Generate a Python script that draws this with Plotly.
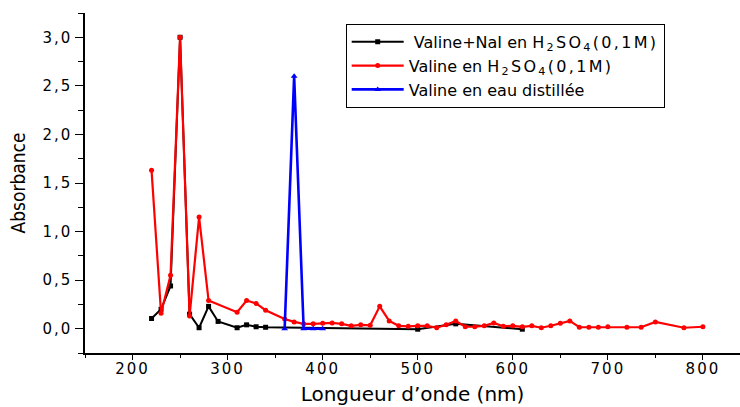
import plotly.graph_objects as go

# Valine + NaI in H2SO4 (0,1M)
black_x = [220, 230, 240, 250, 260, 270, 280, 290, 310, 320, 330, 340, 500, 540, 610]
black_y = [0.105, 0.20, 0.44, 3.0, 0.15, 0.01, 0.23, 0.075, 0.01, 0.04, 0.02, 0.015, -0.005, 0.05, -0.005]

# Valine in H2SO4 (0,1M)
red_x = [220, 230, 240, 250, 260, 270, 280, 310, 320, 330, 340, 360, 370, 380, 390, 400,
         410, 420, 430, 440, 450, 460, 470, 480, 490, 500, 510, 520, 530, 540, 550, 560,
         570, 580, 590, 600, 610, 620, 630, 640, 650, 660, 670, 680, 690, 700, 720, 735,
         750, 780, 800]
red_y = [1.63, 0.16, 0.55, 3.0, 0.13, 1.15, 0.29, 0.17, 0.29, 0.26, 0.19, 0.10, 0.07, 0.05, 0.05, 0.055,
         0.06, 0.05, 0.03, 0.04, 0.035, 0.23, 0.08, 0.03, 0.025, 0.03, 0.03, 0.01, 0.04, 0.08, 0.02, 0.02,
         0.03, 0.06, 0.025, 0.03, 0.02, 0.03, 0.01, 0.03, 0.055, 0.08, 0.015, 0.015, 0.015, 0.02, 0.015, 0.015,
         0.07, 0.01, 0.02]

# Valine in distilled water
blue_x = [360, 370, 380, 390, 400]
blue_y = [0.0, 2.6, 0.0, 0.0, 0.0]

# Tick labels
x_tickvals = [200, 300, 400, 500, 600, 700, 800]
x_ticklabels = ["200", "300", "400", "500", "600", "700", "800"]
y_tickvals = [0.0, 0.5, 1.0, 1.5, 2.0, 2.5, 3.0]
y_ticklabels = ["0,0", "0,5", "1,0", "1,5", "2,0", "2,5", "3,0"]

acid = "<span style='letter-spacing:2.3px'>H<sub>2</sub>SO<sub>4</sub>(0,1M)</span>"
names = [" Valine+NaI en " + acid,
         "Valine en " + acid,
         "Valine en eau distillée"]


def wide(s):
    return "<span style='letter-spacing:2px'>" + s + "</span>"


fig = go.Figure()
fig.add_trace(go.Scatter(x=black_x, y=black_y, mode="lines+markers", name=names[0],
                         line=dict(color="black", width=2),
                         marker=dict(symbol="square", size=5, color="black")))
fig.add_trace(go.Scatter(x=red_x, y=red_y, mode="lines+markers", name=names[1],
                         line=dict(color="#ff0000", width=2.2),
                         marker=dict(symbol="circle", size=5, color="#ff0000")))
fig.add_trace(go.Scatter(x=blue_x, y=blue_y, mode="lines+markers", name=names[2],
                         line=dict(color="#0000ff", width=2.6),
                         marker=dict(symbol="triangle-up", size=6, color="#0000ff")))

fig.update_layout(
    width=740, height=407,
    margin=dict(l=85, r=0, t=13, b=54),
    plot_bgcolor="white", paper_bgcolor="white",
    font=dict(family="DejaVu Sans, Arial, sans-serif", color="black", size=15),
    showlegend=True,
    legend=dict(x=0.398, y=0.968, xanchor="left", yanchor="top",
                bordercolor="black", borderwidth=1, bgcolor="white",
                font=dict(size=16, family="DejaVu Sans, Arial, sans-serif"),
                itemwidth=52, tracegroupgap=0, entrywidth=275, entrywidthmode="pixels"),
)
fig.update_xaxes(range=[150, 839], showline=True, linecolor="black", linewidth=1.5,
                 showgrid=False, zeroline=False, ticks="outside", ticklen=5, tickwidth=1.2,
                 tickcolor="black", tickvals=x_tickvals, ticktext=[wide(t) for t in x_ticklabels],
                 ticklabelstandoff=-4,
                 minor=dict(dtick=50, tick0=0, ticks="outside", ticklen=3, tickcolor="black", showgrid=False),
                 tickfont=dict(size=15),
                 title=dict(text="Longueur d’onde (nm)", font=dict(size=20), standoff=10))
fig.update_yaxes(range=[-0.25, 3.25], showline=True, linecolor="black", linewidth=1.5,
                 showgrid=False, zeroline=False, ticks="outside", ticklen=8, tickwidth=1.2,
                 tickcolor="black", tickvals=y_tickvals, ticktext=[wide(t) for t in y_ticklabels],
                 minor=dict(dtick=0.25, tick0=0, ticks="outside", ticklen=5, tickcolor="black", showgrid=False),
                 tickfont=dict(size=15),
                 title=dict(text="Absorbance", font=dict(size=19, family="Liberation Sans Narrow, DejaVu Sans Condensed, Arial, sans-serif"), standoff=12))

fig.write_html("out.html")
